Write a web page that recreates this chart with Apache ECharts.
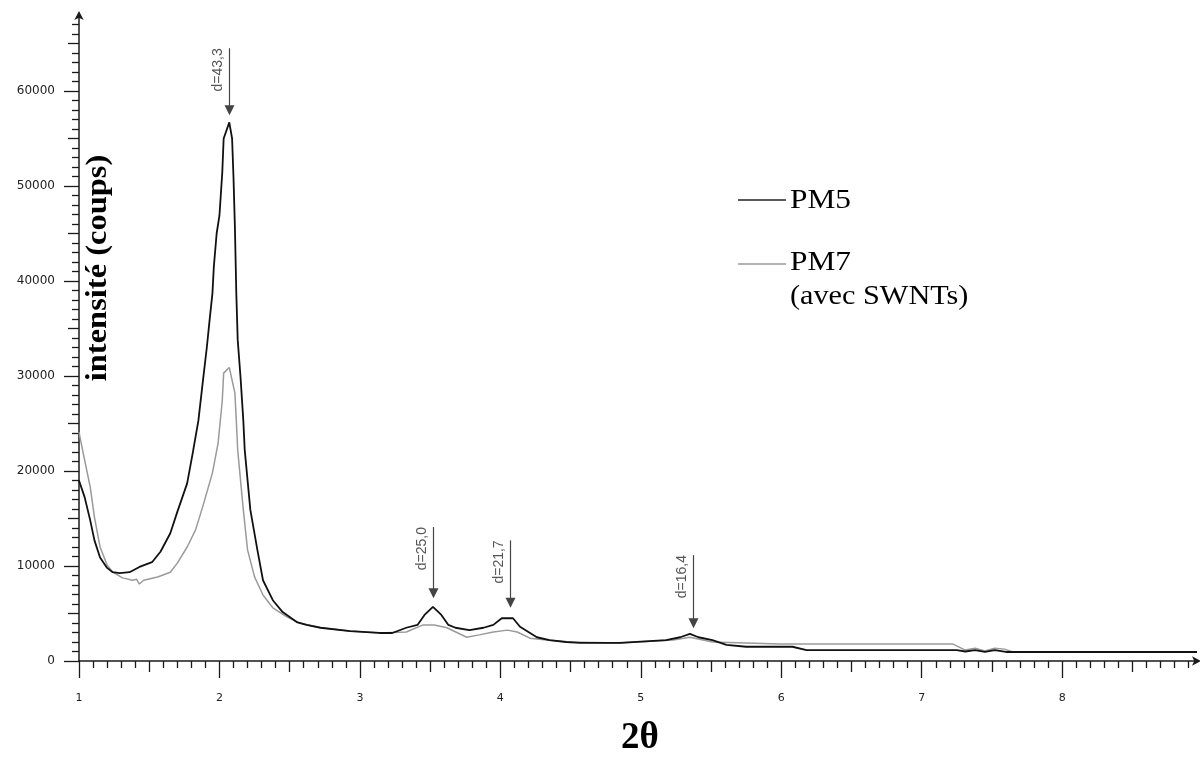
<!DOCTYPE html>
<html>
<head>
<meta charset="utf-8">
<script src="https://cdn.jsdelivr.net/npm/echarts@6/dist/echarts.min.js"></script>
<style>html,body{margin:0;padding:0;background:#fff;}#c{width:1200px;height:758px;}</style>
</head>
<body>
<div id="c"></div>
<script>
// ---- data ----
const xTickLabels = [1, 2, 3, 4, 5, 6, 7, 8];
const yTickLabels = [0, 10000, 20000, 30000, 40000, 50000, 60000];

const pm5 = [[1.00,19000],[1.04,17250],[1.08,14800],[1.11,12700],[1.15,10900],[1.20,9800],[1.24,9350],[1.29,9250],[1.36,9350],[1.43,9900],[1.52,10400],[1.58,11500],[1.65,13450],[1.70,15700],[1.77,18700],[1.81,21900],[1.85,25300],[1.88,29200],[1.91,33000],[1.93,35900],[1.95,38700],[1.96,41500],[1.98,45000],[2.00,46900],[2.02,51400],[2.03,55000],[2.07,56700],[2.09,55000],[2.10,50900],[2.11,45700],[2.12,38700],[2.13,33800],[2.15,29900],[2.17,25300],[2.18,22200],[2.22,15900],[2.27,11700],[2.31,8500],[2.38,6400],[2.45,5150],[2.55,4100],[2.62,3800],[2.72,3500],[2.93,3150],[3.14,2950],[3.23,2950],[3.33,3500],[3.41,3800],[3.46,4850],[3.52,5700],[3.58,4850],[3.63,3800],[3.68,3500],[3.78,3250],[3.88,3500],[3.95,3800],[4.01,4500],[4.09,4500],[4.14,3600],[4.20,3050],[4.26,2500],[4.35,2200],[4.47,2000],[4.57,1900],[4.85,1900],[5.18,2200],[5.28,2500],[5.35,2850],[5.41,2500],[5.51,2200],[5.61,1700],[5.75,1500],[6.08,1500],[6.18,1150],[6.84,1150],[7.25,1150],[7.31,1000],[7.38,1150],[7.45,950],[7.52,1150],[7.60,950],[8.96,950]];

const pm7 = [[1.00,24100],[1.04,21150],[1.08,18300],[1.11,15150],[1.15,12000],[1.20,10100],[1.24,9350],[1.31,8750],[1.38,8500],[1.41,8600],[1.43,8100],[1.46,8500],[1.56,8850],[1.65,9350],[1.70,10300],[1.77,12000],[1.83,13800],[1.88,16200],[1.95,19800],[1.99,22900],[2.02,27400],[2.03,30300],[2.07,30900],[2.11,28200],[2.12,25300],[2.13,22200],[2.17,15900],[2.20,11700],[2.25,8850],[2.31,6950],[2.38,5600],[2.48,4650],[2.57,4000],[2.72,3500],[2.93,3150],[3.14,2950],[3.33,3050],[3.45,3800],[3.53,3800],[3.62,3500],[3.76,2500],[3.85,2750],[3.95,3050],[4.05,3250],[4.12,3050],[4.21,2400],[4.33,2200],[4.47,2000],[4.85,1900],[5.23,2200],[5.35,2500],[5.51,2000],[5.99,1800],[7.22,1800],[7.31,1150],[7.38,1350],[7.45,1050],[7.52,1350],[7.59,1250],[7.65,950],[8.96,950]];

const peakX = [2.07, 3.52, 4.07, 5.37];
const peakLabels = ['d=43,3', 'd=25,0', 'd=21,7', 'd=16,4'];
const arrowTopY = [64500, 14100, 12700, 11150];
const arrowTipY = [57450, 6600, 5600, 3450];

const seriesNames = ['PM5', 'PM7'];
const legendSub = '(avec SWNTs)';
const xName = '2θ';
const yName = 'intensité (coups)';

// ---- tick positions ----
const X_MIN = 1, X_MAX = 8.96, Y_MIN = 0, Y_MAX = 68000;
const xHalf = [], xMinor = [];
for (let i = 10; i <= 89; i++) { const v = i / 10; if (i % 10 === 0) continue; if (i % 5 === 0) xHalf.push(v); else xMinor.push(v); }
const yHalf = [], yMinor = [];
for (let i = 1; i <= 67; i++) { if (i % 10 === 0) continue; if (i % 5 === 0) yHalf.push(i * 1000); else yMinor.push(i * 1000); }

const AX = '#1a1a1a';
const chart = echarts.init(document.getElementById('c'), null, { renderer: 'canvas' });

function xAxisDef(vals, len, main) {
  return {
    type: 'value', min: X_MIN, max: X_MAX, interval: 1, position: 'bottom',
    axisLine: main ? { show: true, lineStyle: { color: AX, width: 1.5 }, symbol: ['none', 'arrow'], symbolSize: [7, 9], symbolOffset: [0, 4] } : { show: false },
    axisTick: { show: true, customValues: vals, length: len, lineStyle: { color: AX, width: 1.3 } },
    axisLabel: main ? { show: true, customValues: xTickLabels, margin: 32, fontSize: 11, color: '#222', fontFamily: 'DejaVu Sans', formatter: v => String(v) } : { show: false },
    splitLine: { show: false }
  };
}
function yAxisDef(vals, len, main) {
  return {
    type: 'value', min: Y_MIN, max: Y_MAX, interval: 10000, position: 'left',
    axisLine: main ? { show: true, lineStyle: { color: AX, width: 1.5 }, symbol: ['none', 'arrow'], symbolSize: [7, 9], symbolOffset: [0, 4] } : { show: false },
    axisTick: { show: true, customValues: vals, length: len, lineStyle: { color: AX, width: 1.3 } },
    axisLabel: main ? { show: true, customValues: yTickLabels, margin: 24, fontSize: 12, color: '#222', fontFamily: 'DejaVu Sans', formatter: v => String(v) } : { show: false },
    splitLine: { show: false }
  };
}

chart.setOption({
  animation: false,
  backgroundColor: '#fff',
  grid: { left: 79, right: 3, top: 15, bottom: 97, containLabel: false },
  xAxis: [xAxisDef(xTickLabels, 17, true), xAxisDef(xHalf, 11, false), xAxisDef(xMinor, 7, false)],
  yAxis: [yAxisDef(yTickLabels, 15, true), yAxisDef(yHalf, 11, false), yAxisDef(yMinor, 7, false)],
  series: [
    { name: seriesNames[1], type: 'line', data: pm7, showSymbol: false, symbol: 'none', lineStyle: { color: '#9a9a9a', width: 1.5 }, z: 2 },
    { name: seriesNames[0], type: 'line', data: pm5, showSymbol: false, symbol: 'none', lineStyle: { color: '#111', width: 1.8 }, z: 3 }
  ]
});

// ---- annotations, legend and titles ----
const g = [];
for (let i = 0; i < peakX.length; i++) {
  const top = chart.convertToPixel({ xAxisIndex: 0, yAxisIndex: 0 }, [peakX[i], arrowTopY[i]]);
  const tip = chart.convertToPixel({ xAxisIndex: 0, yAxisIndex: 0 }, [peakX[i], arrowTipY[i]]);
  const px = Math.round(top[0]) + 0.5;
  g.push({ type: 'line', shape: { x1: px, y1: top[1], x2: px, y2: tip[1] - 8 }, style: { stroke: '#444', lineWidth: 1.2 } });
  g.push({ type: 'polygon', shape: { points: [[px - 5, tip[1] - 10], [px + 5, tip[1] - 10], [px, tip[1]]] }, style: { fill: '#444' } });
  g.push({ type: 'text', x: px - 4, y: top[1], rotation: Math.PI / 2,
    style: { text: peakLabels[i], fontSize: 14, fontFamily: 'Liberation Sans', fill: '#555', align: 'right', verticalAlign: 'bottom' } });
}
// legend
g.push({ type: 'line', shape: { x1: 738, y1: 200, x2: 786, y2: 200 }, style: { stroke: '#222', lineWidth: 1.6 } });
g.push({ type: 'text', x: 790, y: 201, scaleX: 1.16, style: { text: seriesNames[0], fontSize: 27, fontFamily: 'Liberation Serif', fill: '#000', align: 'left', verticalAlign: 'middle' } });
g.push({ type: 'line', shape: { x1: 738, y1: 264, x2: 786, y2: 264 }, style: { stroke: '#9a9a9a', lineWidth: 1.6 } });
g.push({ type: 'text', x: 790, y: 263, scaleX: 1.16, style: { text: seriesNames[1], fontSize: 27, fontFamily: 'Liberation Serif', fill: '#000', align: 'left', verticalAlign: 'middle' } });
g.push({ type: 'text', x: 790, y: 297, scaleX: 1.12, style: { text: legendSub, fontSize: 27, fontFamily: 'Liberation Serif', fill: '#000', align: 'left', verticalAlign: 'middle' } });
// axis names
g.push({ type: 'text', x: 99, y: 268, rotation: Math.PI / 2, scaleX: 1.12,
  style: { text: yName, fontSize: 29, fontWeight: 'bold', fontFamily: 'Liberation Serif', fill: '#000', align: 'center', verticalAlign: 'middle' } });
g.push({ type: 'text', x: 640, y: 738, style: { text: xName, fontSize: 37, fontWeight: 'bold', fontFamily: 'Liberation Serif', fill: '#000', align: 'center', verticalAlign: 'middle' } });

chart.setOption({ graphic: { elements: g } });
</script>
</body>
</html>
